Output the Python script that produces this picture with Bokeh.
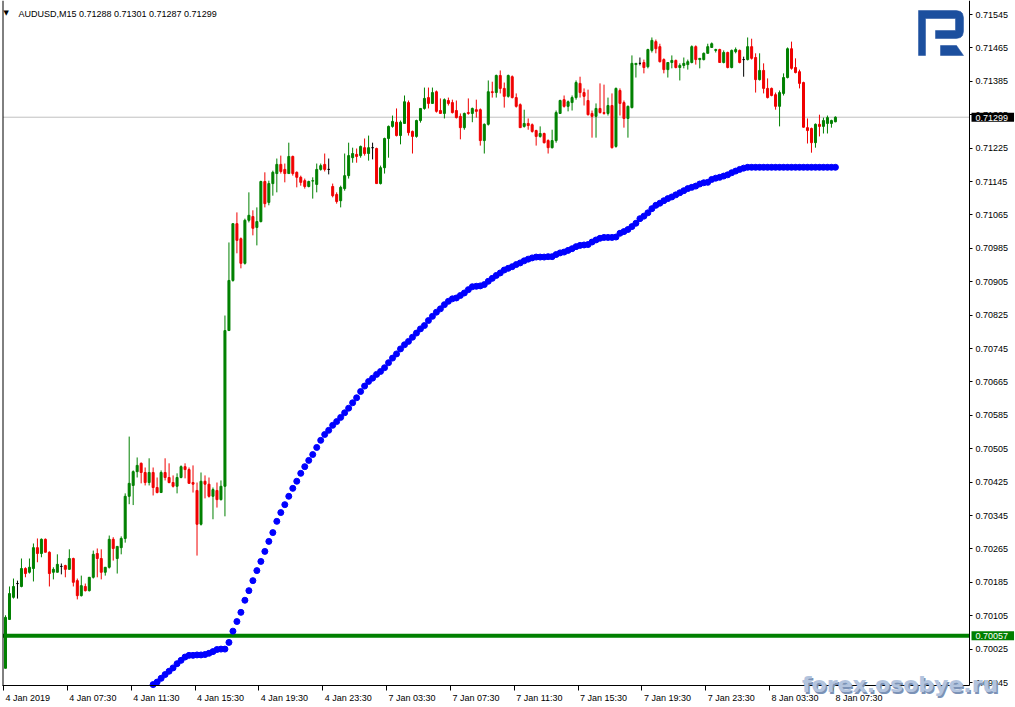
from bokeh.plotting import figure
from bokeh.models import (Range1d, FixedTicker, Label, ColumnDataSource,
                          NumeralTickFormatter)
from bokeh.embed import file_html
from bokeh.resources import INLINE

# ---------------- data ----------------
title_text = "AUDUSD,M15  0.71288 0.71301 0.71287 0.71299"

opens = [
    0.69979, 0.70096, 0.70149, 0.70182, 0.70175, 0.70218, 0.70209, 0.70218, 0.70268, 0.70254,
    0.70288, 0.70257, 0.70209, 0.70209, 0.70223, 0.70225, 0.70216, 0.70242, 0.70189, 0.70153,
    0.70175, 0.70165, 0.70197, 0.70254, 0.70242, 0.70209, 0.70221, 0.70288, 0.70242, 0.70268,
    0.70290, 0.70391, 0.70417, 0.70450, 0.70470, 0.70448, 0.70424, 0.70448, 0.70412, 0.70400,
    0.70448, 0.70436, 0.70424, 0.70415, 0.70436, 0.70462, 0.70455, 0.70424, 0.70405, 0.70324,
    0.70427, 0.70420, 0.70391, 0.70405, 0.70383, 0.70415, 0.70788, 0.70908, 0.71044, 0.71008,
    0.70949, 0.71052, 0.71061, 0.71035, 0.71049, 0.71145, 0.71095, 0.71140, 0.71164, 0.71186,
    0.71174, 0.71164, 0.71205, 0.71167, 0.71155, 0.71147, 0.71133, 0.71146, 0.71138, 0.71174,
    0.71186, 0.71174, 0.71133, 0.71114, 0.71099, 0.71128, 0.71159, 0.71202, 0.71210, 0.71207,
    0.71226, 0.71212, 0.71226, 0.71224, 0.71140, 0.71178, 0.71248, 0.71277, 0.71287, 0.71255,
    0.71284, 0.71334, 0.71265, 0.71253, 0.71291, 0.71320, 0.71346, 0.71332, 0.71360, 0.71315,
    0.71308, 0.71339, 0.71334, 0.71315, 0.71301, 0.71274, 0.71310, 0.71308, 0.71317, 0.71317,
    0.71243, 0.71282, 0.71360, 0.71358, 0.71399, 0.71368, 0.71349, 0.71396, 0.71346, 0.71329,
    0.71277, 0.71284, 0.71281, 0.71267, 0.71253, 0.71260, 0.71243, 0.71226, 0.71243, 0.71308,
    0.71341, 0.71325, 0.71334, 0.71346, 0.71380, 0.71358, 0.71339, 0.71308, 0.71301, 0.71320,
    0.71310, 0.71308, 0.71327, 0.71229, 0.71363, 0.71334, 0.71296, 0.71322, 0.71425, 0.71428,
    0.71430, 0.71420, 0.71459, 0.71480, 0.71468, 0.71437, 0.71413, 0.71430, 0.71435, 0.71418,
    0.71423, 0.71425, 0.71430, 0.71468, 0.71437, 0.71437, 0.71452, 0.71466, 0.71459, 0.71461,
    0.71430, 0.71454, 0.71418, 0.71456, 0.71459, 0.71437, 0.71437, 0.71468, 0.71442, 0.71389,
    0.71411, 0.71368, 0.71368, 0.71353, 0.71325, 0.71356, 0.71394, 0.71463, 0.71418, 0.71408,
    0.71382, 0.71274, 0.71272, 0.71238, 0.71282, 0.71277, 0.71284, 0.71284, 0.71288,
]
highs = [
    0.70106, 0.70175, 0.70194, 0.70189, 0.70242, 0.70221, 0.70242, 0.70278, 0.70290, 0.70290,
    0.70290, 0.70259, 0.70221, 0.70252, 0.70230, 0.70227, 0.70264, 0.70244, 0.70194, 0.70201,
    0.70182, 0.70197, 0.70261, 0.70266, 0.70264, 0.70221, 0.70297, 0.70293, 0.70271, 0.70295,
    0.70398, 0.70534, 0.70453, 0.70484, 0.70472, 0.70460, 0.70482, 0.70460, 0.70436, 0.70453,
    0.70482, 0.70470, 0.70441, 0.70446, 0.70465, 0.70470, 0.70460, 0.70465, 0.70424, 0.70448,
    0.70441, 0.70436, 0.70412, 0.70424, 0.70429, 0.70824, 0.70999, 0.71044, 0.71071, 0.71011,
    0.71056, 0.71119, 0.71076, 0.71083, 0.71147, 0.71167, 0.71147, 0.71171, 0.71200, 0.71207,
    0.71188, 0.71238, 0.71207, 0.71169, 0.71159, 0.71152, 0.71147, 0.71155, 0.71188, 0.71188,
    0.71212, 0.71200, 0.71140, 0.71119, 0.71135, 0.71212, 0.71238, 0.71226, 0.71224, 0.71231,
    0.71248, 0.71255, 0.71238, 0.71226, 0.71183, 0.71250, 0.71279, 0.71303, 0.71320, 0.71291,
    0.71351, 0.71339, 0.71267, 0.71293, 0.71320, 0.71370, 0.71370, 0.71370, 0.71363, 0.71344,
    0.71344, 0.71346, 0.71341, 0.71339, 0.71308, 0.71310, 0.71344, 0.71322, 0.71341, 0.71320,
    0.71284, 0.71387, 0.71384, 0.71401, 0.71411, 0.71382, 0.71401, 0.71399, 0.71356, 0.71332,
    0.71317, 0.71296, 0.71284, 0.71269, 0.71277, 0.71262, 0.71246, 0.71269, 0.71315, 0.71341,
    0.71351, 0.71339, 0.71351, 0.71387, 0.71396, 0.71368, 0.71365, 0.71315, 0.71332, 0.71380,
    0.71377, 0.71346, 0.71356, 0.71370, 0.71368, 0.71339, 0.71327, 0.71447, 0.71428, 0.71442,
    0.71437, 0.71463, 0.71490, 0.71485, 0.71475, 0.71440, 0.71430, 0.71447, 0.71437, 0.71428,
    0.71442, 0.71437, 0.71471, 0.71471, 0.71440, 0.71454, 0.71475, 0.71478, 0.71463, 0.71463,
    0.71459, 0.71456, 0.71461, 0.71466, 0.71461, 0.71444, 0.71490, 0.71487, 0.71452, 0.71452,
    0.71428, 0.71392, 0.71370, 0.71358, 0.71363, 0.71404, 0.71466, 0.71480, 0.71440, 0.71413,
    0.71384, 0.71296, 0.71274, 0.71284, 0.71305, 0.71298, 0.71303, 0.71293, 0.71301,
]
lows = [
    0.69979, 0.70096, 0.70146, 0.70146, 0.70173, 0.70197, 0.70206, 0.70187, 0.70233, 0.70245,
    0.70257, 0.70175, 0.70192, 0.70209, 0.70204, 0.70197, 0.70216, 0.70175, 0.70144, 0.70151,
    0.70163, 0.70163, 0.70194, 0.70197, 0.70192, 0.70201, 0.70218, 0.70237, 0.70206, 0.70252,
    0.70280, 0.70372, 0.70370, 0.70436, 0.70422, 0.70417, 0.70417, 0.70393, 0.70398, 0.70400,
    0.70429, 0.70422, 0.70412, 0.70398, 0.70434, 0.70434, 0.70422, 0.70400, 0.70249, 0.70321,
    0.70386, 0.70388, 0.70336, 0.70364, 0.70381, 0.70343, 0.70788, 0.70905, 0.70973, 0.70937,
    0.70946, 0.71047, 0.71016, 0.70992, 0.71047, 0.71083, 0.71088, 0.71111, 0.71119, 0.71164,
    0.71143, 0.71164, 0.71159, 0.71131, 0.71135, 0.71128, 0.71131, 0.71104, 0.71119, 0.71171,
    0.71169, 0.71162, 0.71107, 0.71092, 0.71083, 0.71123, 0.71152, 0.71190, 0.71190, 0.71202,
    0.71207, 0.71195, 0.71198, 0.71140, 0.71138, 0.71164, 0.71202, 0.71274, 0.71253, 0.71234,
    0.71284, 0.71255, 0.71212, 0.71250, 0.71286, 0.71317, 0.71320, 0.71332, 0.71310, 0.71308,
    0.71296, 0.71327, 0.71308, 0.71296, 0.71246, 0.71269, 0.71305, 0.71287, 0.71298, 0.71231,
    0.71212, 0.71279, 0.71346, 0.71346, 0.71356, 0.71322, 0.71346, 0.71344, 0.71322, 0.71274,
    0.71274, 0.71269, 0.71262, 0.71231, 0.71250, 0.71236, 0.71212, 0.71224, 0.71238, 0.71308,
    0.71322, 0.71313, 0.71315, 0.71341, 0.71346, 0.71327, 0.71303, 0.71250, 0.71250, 0.71308,
    0.71305, 0.71303, 0.71224, 0.71226, 0.71303, 0.71274, 0.71250, 0.71320, 0.71394, 0.71423,
    0.71404, 0.71416, 0.71454, 0.71452, 0.71430, 0.71404, 0.71394, 0.71416, 0.71416, 0.71387,
    0.71416, 0.71413, 0.71428, 0.71425, 0.71416, 0.71435, 0.71452, 0.71466, 0.71454, 0.71430,
    0.71428, 0.71416, 0.71416, 0.71452, 0.71428, 0.71396, 0.71435, 0.71437, 0.71358, 0.71387,
    0.71356, 0.71344, 0.71349, 0.71317, 0.71277, 0.71351, 0.71392, 0.71413, 0.71404, 0.71368,
    0.71274, 0.71236, 0.71214, 0.71226, 0.71253, 0.71260, 0.71260, 0.71274, 0.71287,
]
closes = [
    0.70101, 0.70158, 0.70175, 0.70182, 0.70218, 0.70206, 0.70221, 0.70268, 0.70254, 0.70288,
    0.70257, 0.70206, 0.70216, 0.70228, 0.70223, 0.70216, 0.70242, 0.70185, 0.70153, 0.70177,
    0.70165, 0.70197, 0.70252, 0.70242, 0.70209, 0.70221, 0.70288, 0.70266, 0.70271, 0.70290,
    0.70391, 0.70422, 0.70450, 0.70465, 0.70448, 0.70424, 0.70448, 0.70412, 0.70400, 0.70448,
    0.70436, 0.70424, 0.70415, 0.70436, 0.70462, 0.70455, 0.70422, 0.70420, 0.70324, 0.70427,
    0.70420, 0.70391, 0.70407, 0.70383, 0.70415, 0.70788, 0.70908, 0.71044, 0.71004, 0.70949,
    0.71052, 0.71064, 0.71033, 0.71049, 0.71145, 0.71092, 0.71140, 0.71167, 0.71186, 0.71169,
    0.71164, 0.71205, 0.71164, 0.71155, 0.71143, 0.71133, 0.71145, 0.71147, 0.71174, 0.71183,
    0.71174, 0.71174, 0.71111, 0.71097, 0.71131, 0.71159, 0.71207, 0.71212, 0.71205, 0.71229,
    0.71212, 0.71226, 0.71226, 0.71140, 0.71178, 0.71248, 0.71277, 0.71289, 0.71255, 0.71287,
    0.71336, 0.71262, 0.71253, 0.71291, 0.71320, 0.71344, 0.71332, 0.71358, 0.71313, 0.71308,
    0.71341, 0.71332, 0.71310, 0.71298, 0.71274, 0.71308, 0.71308, 0.71320, 0.71313, 0.71243,
    0.71282, 0.71360, 0.71358, 0.71399, 0.71368, 0.71349, 0.71399, 0.71346, 0.71325, 0.71274,
    0.71284, 0.71279, 0.71265, 0.71253, 0.71260, 0.71238, 0.71226, 0.71243, 0.71310, 0.71339,
    0.71325, 0.71336, 0.71346, 0.71382, 0.71358, 0.71349, 0.71305, 0.71301, 0.71320, 0.71310,
    0.71308, 0.71327, 0.71226, 0.71368, 0.71332, 0.71296, 0.71325, 0.71428, 0.71428, 0.71428,
    0.71418, 0.71461, 0.71483, 0.71463, 0.71432, 0.71413, 0.71430, 0.71435, 0.71418, 0.71423,
    0.71428, 0.71432, 0.71468, 0.71437, 0.71440, 0.71452, 0.71468, 0.71475, 0.71461, 0.71430,
    0.71454, 0.71418, 0.71459, 0.71461, 0.71430, 0.71437, 0.71468, 0.71440, 0.71389, 0.71411,
    0.71368, 0.71346, 0.71351, 0.71325, 0.71358, 0.71394, 0.71463, 0.71416, 0.71406, 0.71380,
    0.71275, 0.71267, 0.71238, 0.71282, 0.71277, 0.71291, 0.71298, 0.71291, 0.71299,
]

# blue dotted indicator, one value per bar starting at bar 37
dots_start = 37
dots = [
    0.69940, 0.69946, 0.69955, 0.69964, 0.69972, 0.69980, 0.69990, 0.69998, 0.70006, 0.70010,
    0.70010, 0.70011, 0.70011, 0.70012, 0.70015, 0.70019, 0.70024, 0.70025, 0.70025, 0.70041,
    0.70068, 0.70091, 0.70113, 0.70142, 0.70165, 0.70189, 0.70213, 0.70235, 0.70259, 0.70283,
    0.70304, 0.70331, 0.70352, 0.70371, 0.70391, 0.70410, 0.70427, 0.70446, 0.70462, 0.70477,
    0.70491, 0.70508, 0.70525, 0.70539, 0.70549, 0.70561, 0.70570, 0.70580, 0.70591, 0.70602,
    0.70615, 0.70627, 0.70642, 0.70655, 0.70666, 0.70674, 0.70683, 0.70690, 0.70699, 0.70711,
    0.70722, 0.70732, 0.70744, 0.70754, 0.70762, 0.70772, 0.70782, 0.70792, 0.70800, 0.70812,
    0.70822, 0.70832, 0.70840, 0.70850, 0.70858, 0.70864, 0.70866, 0.70872, 0.70878, 0.70886,
    0.70893, 0.70894, 0.70895, 0.70898, 0.70906, 0.70913, 0.70920, 0.70926, 0.70933, 0.70937,
    0.70941, 0.70946, 0.70950, 0.70955, 0.70959, 0.70962, 0.70964, 0.70964, 0.70964, 0.70965,
    0.70965, 0.70970, 0.70974, 0.70976, 0.70980, 0.70984, 0.70989, 0.70992, 0.70993, 0.70994,
    0.71000, 0.71005, 0.71009, 0.71011, 0.71011, 0.71011, 0.71012, 0.71021, 0.71025, 0.71030,
    0.71037, 0.71045, 0.71056, 0.71062, 0.71070, 0.71080, 0.71088, 0.71093, 0.71099, 0.71104,
    0.71108, 0.71113, 0.71118, 0.71123, 0.71128, 0.71131, 0.71134, 0.71139, 0.71142, 0.71143,
    0.71150, 0.71153, 0.71155, 0.71158, 0.71161, 0.71166, 0.71170, 0.71174, 0.71177, 0.71179,
    0.71179, 0.71179, 0.71179, 0.71179, 0.71179, 0.71179, 0.71179, 0.71179, 0.71179, 0.71179,
    0.71179, 0.71179, 0.71179, 0.71179, 0.71179, 0.71179, 0.71179, 0.71179, 0.71179, 0.71179,
    0.71179, 0.71179,
]

price_ticks = [0.69945, 0.70025, 0.70105, 0.70185, 0.70265, 0.70345, 0.70425, 0.70505,
               0.70585, 0.70665, 0.70745, 0.70825, 0.70905, 0.70985, 0.71065, 0.71145,
               0.71225, 0.71305, 0.71385, 0.71465, 0.71545]
time_labels = ["4 Jan 2019", "4 Jan 07:30", "4 Jan 11:30", "4 Jan 15:30", "4 Jan 19:30",
               "4 Jan 23:30", "7 Jan 03:30", "7 Jan 07:30", "7 Jan 11:30", "7 Jan 15:30",
               "7 Jan 19:30", "7 Jan 23:30", "8 Jan 03:30", "8 Jan 07:30"]
bars_per_label = 16
level_price = 0.70057
last_price = 0.71299
watermark = "forex.osobye.ru"

# ---------------- geometry (canvas pixels) ----------------
# The Bokeh frame covers the whole canvas; the MT4-style chart box sits inside it
# and both axes are pinned at fixed locations (chart right edge / chart bottom).
W, H = 1015, 707
BAR0_PX, BAR_PX = 5.0, 3.99          # x pixel of bar 0, pixels per bar
PRICE_REF, PRICE_REF_PX, PX_PER_PRICE = 0.71545, 14.0, 41750.0
CHART_L, CHART_R, CHART_B = 2, 969, 685


def px_x(sx):
    return (sx - BAR0_PX) / BAR_PX


def px_y(sy):
    return PRICE_REF - (sy - PRICE_REF_PX) / PX_PER_PRICE


X0, X1 = px_x(0), px_x(W)
Y0, Y1 = px_y(H), px_y(0)
AX_X = px_x(CHART_R)      # data x of the price axis
AX_Y = px_y(CHART_B)      # data y of the time axis
LEFT_X = px_x(CHART_L + 0.5)

GREEN = "#008000"
RED = "#f00000"
FONT = "Liberation Sans"

p = figure(width=W, height=H, x_range=Range1d(X0, X1), y_range=Range1d(Y0, Y1),
           y_axis_location="right", output_backend="svg", toolbar_location=None,
           min_border=0, min_border_left=0, min_border_right=0, min_border_top=0,
           min_border_bottom=0)
p.outline_line_color = None
p.grid.visible = False
p.background_fill_color = "white"
p.border_fill_color = "white"

# right price axis pinned at the chart's right edge
ya = p.yaxis[0]
ya.fixed_location = AX_X
ya.bounds = (AX_Y, Y1)
ya.ticker = FixedTicker(ticks=price_ticks)
ya.formatter = NumeralTickFormatter(format="0.00000")
ya.major_tick_out = 3
ya.major_tick_in = 0
ya.minor_tick_line_color = None
ya.major_label_standoff = 3
ya.major_label_text_font = FONT
ya.major_label_text_font_size = "9px"
ya.major_label_text_color = "black"
ya.axis_line_color = "black"

# bottom time axis pinned at the chart's bottom edge (tick marks; labels below)
xa = p.xaxis[0]
tick_pos = [k * bars_per_label - 0.5 for k in range(len(time_labels))]
xa.fixed_location = AX_Y
xa.bounds = (px_x(CHART_L), AX_X)
xa.ticker = FixedTicker(ticks=tick_pos)
xa.major_label_text_color = None
xa.major_tick_out = 5
xa.major_tick_in = 0
xa.minor_tick_line_color = None
xa.axis_line_color = "black"

label_y = px_y(697.5)
for pos, txt in zip(tick_pos, time_labels):
    p.add_layout(Label(x=pos, y=label_y, x_offset=2, text=txt, text_font=FONT,
                       text_font_size="9px", text_color="black",
                       text_baseline="alphabetic", text_align="left"))

# left frame line
p.segment(x0=[LEFT_X], y0=[AX_Y], x1=[LEFT_X], y1=[Y1], line_color="black", line_width=1)

# horizontal levels (current price and green level line)
p.segment(x0=[LEFT_X], y0=[last_price], x1=[AX_X], y1=[last_price],
          line_color="#c0c0c0", line_width=1, level="underlay")
p.segment(x0=[LEFT_X], y0=[level_price], x1=[AX_X], y1=[level_price],
          line_color=GREEN, line_width=4, level="underlay")

# candles
idx = list(range(len(opens)))
colors = []
for o, c in zip(opens, closes):
    colors.append(GREEN if c > o else (RED if c < o else "black"))
src = ColumnDataSource(dict(
    x=idx, h=highs, l=lows,
    top=[max(o, c) for o, c in zip(opens, closes)],
    bottom=[min(o, c) for o, c in zip(opens, closes)],
    color=colors))
p.segment(x0="x", y0="l", x1="x", y1="h", line_color="color", line_width=1, source=src)
p.vbar(x="x", width=0.5, top="top", bottom="bottom", fill_color="color",
       line_color="color", line_width=1, source=src)

# blue dots
dot_x = [dots_start + k for k in range(len(dots))]
p.scatter(x=dot_x, y=dots, size=6, color="#0000ff", line_color="#0000ff")

# price boxes on the axis
for price, bg in ((last_price, "black"), (level_price, GREEN)):
    p.add_layout(Label(x=px_x(971), y=price, text=f"{price:.5f}", text_color="white",
                       text_font=FONT, text_font_size="9px", text_baseline="middle",
                       text_align="left", background_fill_color=bg,
                       padding=dict(left=4, right=6, top=2, bottom=1)))

# title
p.add_layout(Label(x=px_x(3), y=px_y(12), text="\u25BC", text_font="DejaVu Sans",
                   text_font_size="7px", text_color="black", text_baseline="alphabetic"))
p.add_layout(Label(x=px_x(18), y=px_y(13), text=title_text, text_font=FONT,
                   text_font_size="9px", text_color="black", text_baseline="alphabetic"))

# logo
logo_p = [(918, 10), (956, 10), (960, 11), (962, 13), (963, 17), (963, 31), (962, 35),
          (960, 37), (956, 38), (935, 38), (935, 30), (955, 30), (955, 18), (925, 18),
          (925, 55), (918, 55)]
logo_b = [(940, 45), (956, 45), (963, 55), (940, 55)]
p.patches(xs=[[px_x(a) for a, b in logo_p], [px_x(a) for a, b in logo_b]],
          ys=[[px_y(b) for a, b in logo_p], [px_y(b) for a, b in logo_b]],
          fill_color="#1c4f9e", line_color="#1c4f9e", line_width=0.5)

# watermark
p.add_layout(Label(x=px_x(803), y=px_y(685.5), text=watermark, text_font="DejaVu Sans",
                   text_font_style="bold", text_font_size="22px", text_color="#7b92b6",
                   text_baseline="alphabetic", level="overlay"))
p.add_layout(Label(x=px_x(801.5), y=px_y(684), text=watermark, text_font="DejaVu Sans",
                   text_font_style="bold", text_font_size="22px", text_color="#b3c4de",
                   text_baseline="alphabetic", level="overlay"))

open("out.html", "w").write(file_html(p, INLINE))
